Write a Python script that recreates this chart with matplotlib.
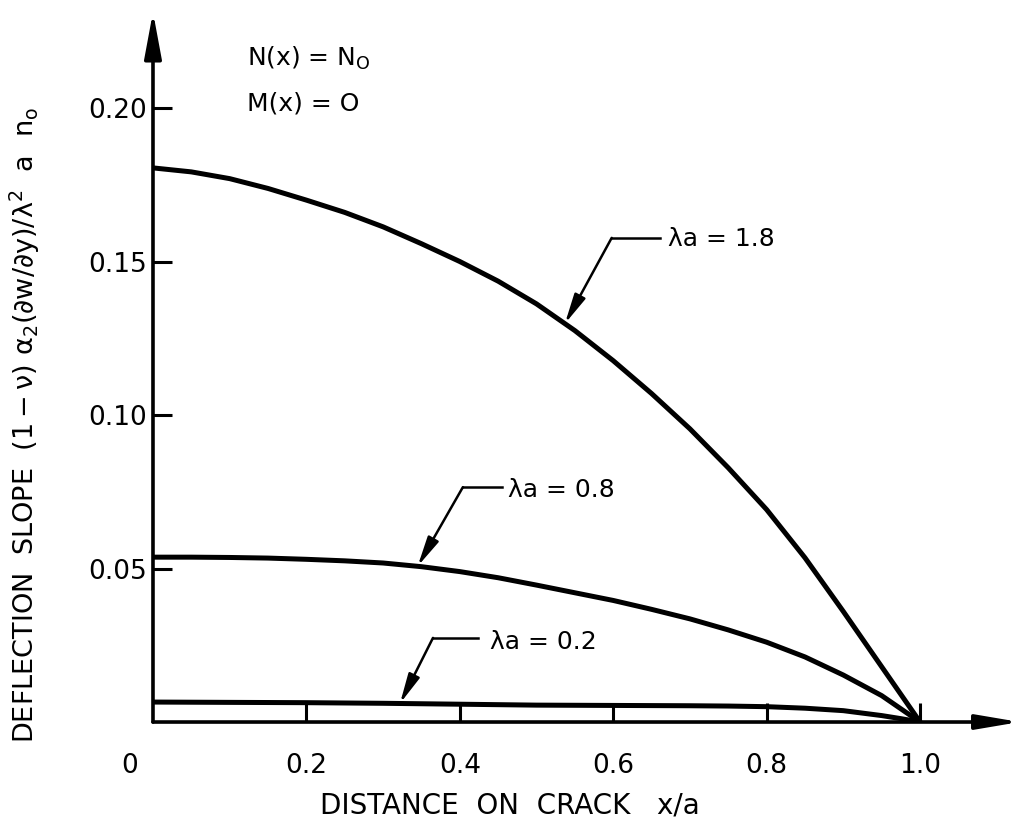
import numpy as np
import matplotlib
matplotlib.use('Agg')
import matplotlib.pyplot as plt
from matplotlib.transforms import ScaledTranslation

# deflection slope along the crack for three values of lambda*a
x_18 = [0.0, 0.05, 0.10, 0.15, 0.20, 0.25, 0.30, 0.35, 0.40, 0.45, 0.50,
        0.55, 0.60, 0.65, 0.70, 0.75, 0.80, 0.85, 0.90, 0.95, 1.0]
slope_18 = [0.1805, 0.1792, 0.1770, 0.1738, 0.1700, 0.1660, 0.1613, 0.1558,
            0.1500, 0.1436, 0.1362, 0.1275, 0.1177, 0.1070, 0.0955, 0.0828,
            0.0692, 0.0535, 0.0360, 0.0180, 0.0]

x_08 = [0.0, 0.05, 0.10, 0.15, 0.20, 0.25, 0.30, 0.35, 0.40, 0.45, 0.50,
        0.55, 0.60, 0.65, 0.70, 0.75, 0.80, 0.85, 0.90, 0.95, 1.0]
slope_08 = [0.0537, 0.0537, 0.0536, 0.0534, 0.0530, 0.0525, 0.0518, 0.0506,
            0.0490, 0.0470, 0.0446, 0.0421, 0.0396, 0.0367, 0.0336, 0.0300,
            0.0260, 0.0212, 0.0153, 0.0086, 0.0]

x_02 = [0.0, 0.1, 0.2, 0.3, 0.4, 0.5, 0.6, 0.7, 0.75, 0.8, 0.85, 0.9, 0.95, 0.975, 1.0]
slope_02 = [0.0065, 0.0064, 0.0063, 0.0061, 0.0058, 0.0055, 0.0054, 0.0053,
            0.0052, 0.0050, 0.0045, 0.0037, 0.0021, 0.0011, 0.0]

labels = ['\u03bba = 1.8', '\u03bba = 0.8', '\u03bba = 0.2']

xticks = [0.2, 0.4, 0.6, 0.8, 1.0]
xticklabels = ['0.2', '0.4', '0.6', '0.8', '1.0']
yticks = [0.05, 0.10, 0.15, 0.20]
yticklabels = ['0.05', '0.10', '0.15', '0.20']

plt.rcParams['font.family'] = ['DejaVu Sans']
plt.rcParams['mathtext.default'] = 'regular'

fig = plt.figure(figsize=(10.24, 8.23), dpi=100)
ax = fig.add_axes([0.1494, 0.1227, 0.8502, 0.8710])
ax.set_xlim(0, 1.135)
ax.set_ylim(0, 0.2335)
for s in ax.spines.values():
    s.set_visible(False)

# axes drawn as arrows
ax.annotate('', xy=(1.13, 0), xytext=(0, 0), annotation_clip=False,
            arrowprops=dict(arrowstyle='-|>,head_length=1.3,head_width=0.22',
                            lw=2.6, color='black', shrinkA=0, shrinkB=0,
                            mutation_scale=20))
ax.annotate('', xy=(0, 0.2313), xytext=(0, 0), annotation_clip=False,
            arrowprops=dict(arrowstyle='-|>,head_length=1.4,head_width=0.26',
                            lw=2.6, color='black', shrinkA=0, shrinkB=0,
                            mutation_scale=20))

curves = [(x_18, slope_18), (x_08, slope_08), (x_02, slope_02)]
for xs, ys in curves:
    ax.plot(xs, ys, color='black', lw=3.6, solid_capstyle='round',
            solid_joinstyle='round')

# leader lines: (tip x, elbow, end of horizontal, text position)
leaders = [
    (0.537, (0.598, 0.1577), 0.661, (0.671, 0.1575)),
    (0.345, (0.404, 0.0765), 0.455, (0.463, 0.0757)),
    (0.322, (0.365, 0.0274), 0.424, (0.439, 0.0262)),
]
for (xs, ys), lab, (tx, elbow, hx, tpos) in zip(curves, labels, leaders):
    ty = np.interp(tx, xs, ys)
    ax.plot([elbow[0], hx], [elbow[1], elbow[1]], color='black', lw=1.8)
    ax.annotate('', xy=(tx, ty), xytext=elbow,
                arrowprops=dict(arrowstyle='-|>,head_length=0.9,head_width=0.18',
                                lw=1.8, color='black', shrinkA=0, shrinkB=0,
                                mutation_scale=20))
    ax.text(tpos[0], tpos[1], lab, fontsize=18, va='center', ha='left')

ax.text(0.1226, 0.2163, r'N(x) = N$_{O}$', fontsize=18, va='center')
ax.text(0.1226, 0.2016, 'M(x) = O', fontsize=18, va='center')

ax.set_xticks(xticks)
ax.set_xticklabels(xticklabels)
ax.set_yticks(yticks)
ax.set_yticklabels(yticklabels)
ax.tick_params(axis='both', direction='in', length=14, width=2.2, labelsize=19)
ax.tick_params(axis='x', pad=22)
ax.tick_params(axis='y', pad=4)
ax.text(-0.03, 0, '0', fontsize=19, ha='center', va='top',
        transform=ax.transData + ScaledTranslation(0, -22 / 72, fig.dpi_scale_trans))

ax.set_xlabel('DISTANCE  ON  CRACK   x/a', fontsize=20)
ax.xaxis.set_label_coords(0.41, -0.097)
ax.set_ylabel(r'DEFLECTION  SLOPE  $(1-\nu)\ \alpha_2(\partial w/\partial y)/\lambda^2\ \ a\ \ n_o$',
              fontsize=19.5)
ax.yaxis.set_label_coords(-0.128, 0.414)

fig.savefig('out.png', dpi=100)
